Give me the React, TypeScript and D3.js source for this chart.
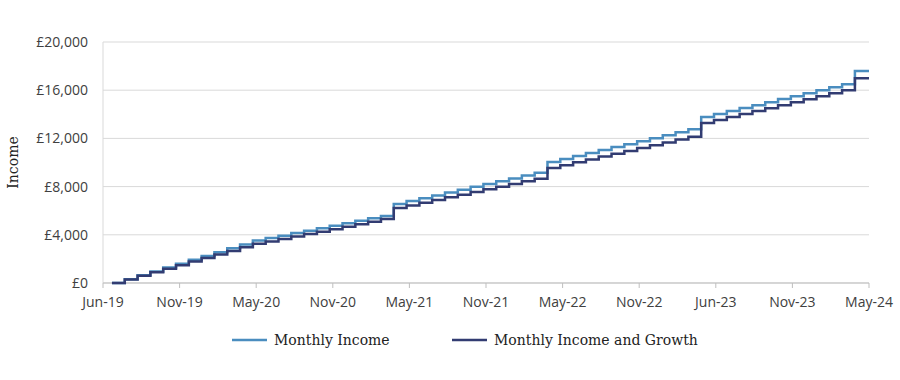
import React from "react";
import * as d3 from "d3";

const xTickLabels = ["Jun-19", "Nov-19", "May-20", "Nov-20", "May-21", "Nov-21", "May-22", "Nov-22", "Jun-23", "Nov-23", "May-24"];
const yTicks = [0, 4000, 8000, 12000, 16000, 20000];

const monthlyIncome = [
  0, 320, 640, 960, 1280, 1600, 1920, 2240, 2560, 2880, 3200, 3520,
  3730, 3930, 4140, 4340, 4550, 4750, 4960, 5160, 5370, 5570,
  6560, 6800, 7040, 7270, 7510, 7740, 7980, 8210, 8450, 8680, 8920, 9150,
  10040, 10290, 10530, 10780, 11030, 11280, 11520, 11770, 12020, 12260, 12510, 12760,
  13780, 14030, 14270, 14520, 14760, 15010, 15260, 15500, 15750, 16000, 16240, 16490,
  17590,
];

const monthlyIncomeGrowth = [
  0, 300, 600, 890, 1190, 1480, 1780, 2070, 2370, 2660, 2960, 3250,
  3450, 3650, 3850, 4060, 4260, 4470, 4670, 4880, 5080, 5310,
  6220, 6440, 6660, 6880, 7110, 7330, 7550, 7770, 7990, 8210, 8440, 8660,
  9550, 9780, 10020, 10250, 10490, 10730, 10960, 11200, 11430, 11670, 11900, 12140,
  13280, 13530, 13770, 14020, 14270, 14510, 14760, 15000, 15250, 15500, 15740, 15990,
  16990,
];

const seriesNames = ["Monthly Income", "Monthly Income and Growth"];
const colors = ["#4a8dbf", "#323c72"];

const W = 900;
const H = 380;
const left = 103;
const right = 869;
const top = 42;
const bottom = 283;
const xStart = -0.7;
const xEnd = 59.1;

export default function App() {
  const x = d3.scaleLinear().domain([xStart, xEnd]).range([left, right]);
  const y = d3.scaleLinear().domain([0, 20000]).range([bottom, top]);
  const tickPos = d3.scaleLinear().domain([0, xTickLabels.length - 1]).range([xStart, xEnd]);

  const makePath = (vals: number[]) => {
    const pts: [number, number][] = vals.map((v, i) => [i, v]);
    pts.push([xEnd, vals[vals.length - 1]]);
    return d3
      .line<[number, number]>()
      .x((d) => x(d[0]))
      .y((d) => y(d[1]))
      .curve(d3.curveStepAfter)(pts) as string;
  };

  const fmt = (v: number) => "£" + d3.format(",")(v);
  const sans = "'Open Sans', 'Noto Sans', sans-serif";
  const serif = "'DejaVu Serif', serif";

  return (
    <svg width={W} height={H} style={{ position: "absolute", left: 0, top: 0, background: "#fff" }}>
      {yTicks.map((t) => (
        <line key={"g" + t} x1={left} x2={right} y1={y(t)} y2={y(t)} stroke="#d9d9d9" strokeWidth={1} />
      ))}
      <line x1={left} x2={left} y1={top} y2={bottom} stroke="#d9d9d9" strokeWidth={1} />
      <line x1={left} x2={right} y1={bottom} y2={bottom} stroke="#bfbfbf" strokeWidth={1} />
      {xTickLabels.map((l, i) => (
        <g key={l}>
          <line x1={x(tickPos(i))} x2={x(tickPos(i))} y1={bottom} y2={bottom + 5} stroke="#bfbfbf" strokeWidth={1} />
          <text x={x(tickPos(i))} y={bottom + 24} textAnchor="middle" fontFamily={sans} fontSize={14} fill="#404040">
            {l}
          </text>
        </g>
      ))}
      {yTicks.map((t) => (
        <text key={"y" + t} x={88} y={y(t) + 5} textAnchor="end" fontFamily={sans} fontSize={14} fill="#404040">
          {fmt(t)}
        </text>
      ))}
      <text transform={`translate(18,${(top + bottom) / 2}) rotate(-90)`} textAnchor="middle" fontFamily={serif} fontSize={14} fill="#222">
        Income
      </text>
      <path d={makePath(monthlyIncome)} fill="none" stroke={colors[0]} strokeWidth={2.5} />
      <path d={makePath(monthlyIncomeGrowth)} fill="none" stroke={colors[1]} strokeWidth={2.5} />
      {seriesNames.map((n, i) => {
        const lx = i === 0 ? 232 : 452;
        return (
          <g key={n}>
            <line x1={lx} x2={lx + 35} y1={340} y2={340} stroke={colors[i]} strokeWidth={2.5} />
            <text x={lx + 42} y={345} fontFamily={serif} fontSize={14} fill="#222">
              {n}
            </text>
          </g>
        );
      })}
    </svg>
  );
}
